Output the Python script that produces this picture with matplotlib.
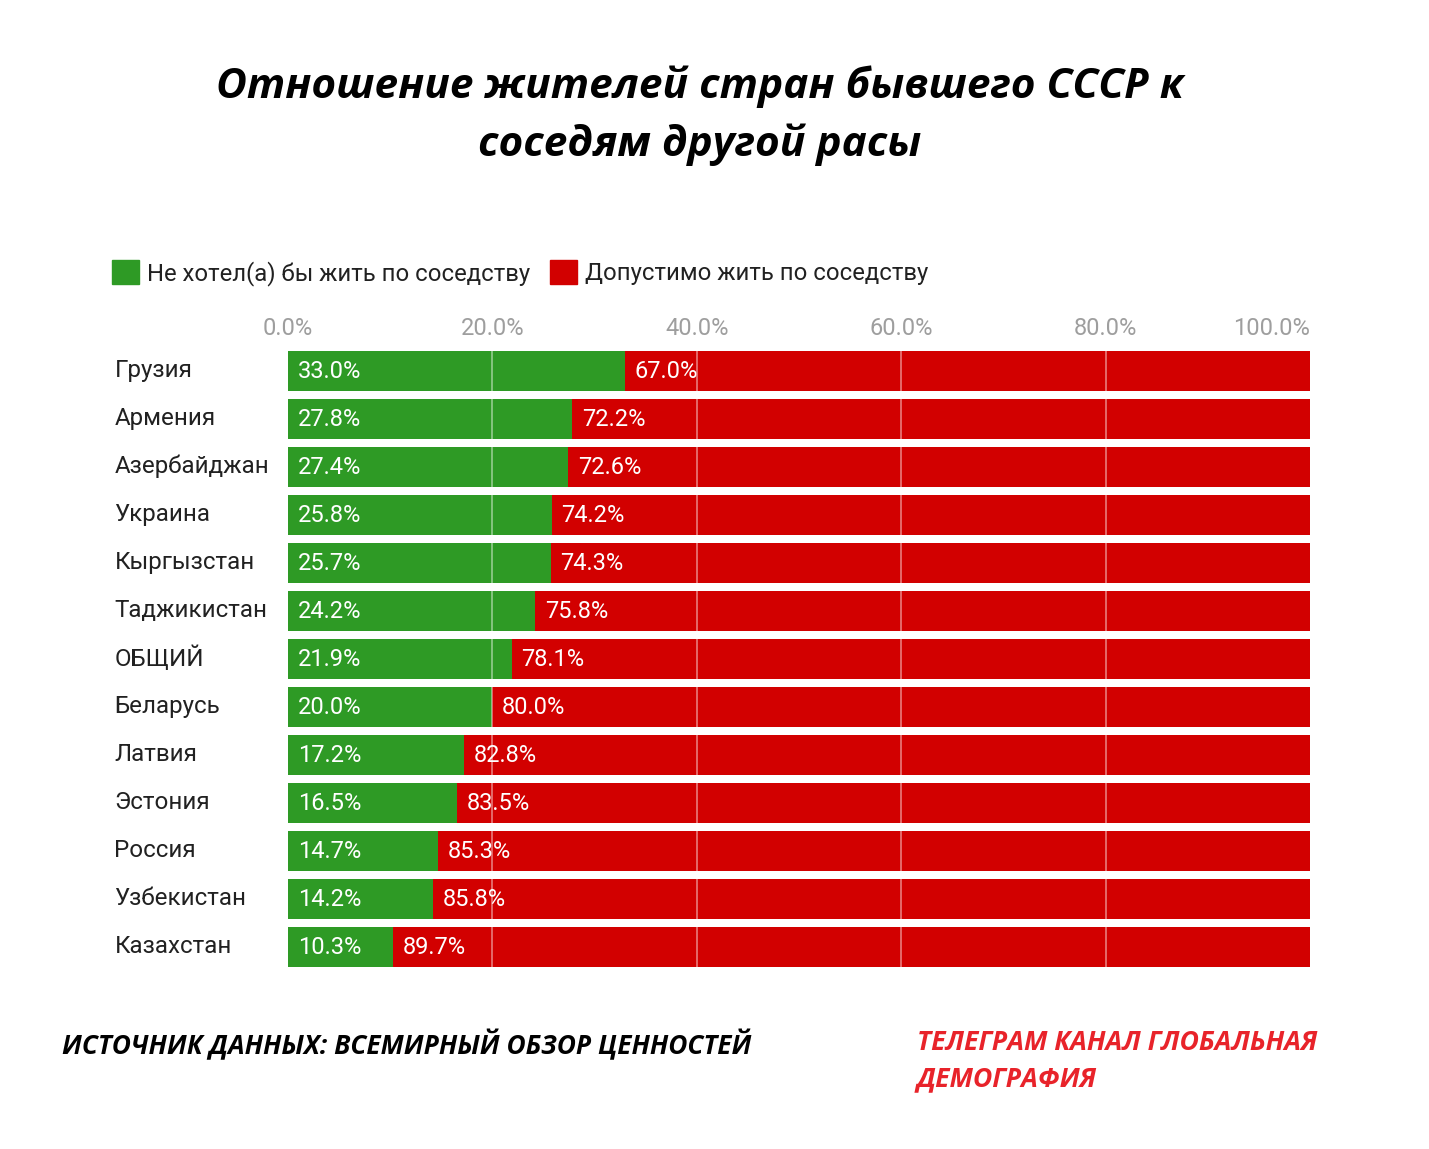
import matplotlib.pyplot as plt
from matplotlib.patches import Patch
from matplotlib.transforms import ScaledTranslation

countries = ['Грузия', 'Армения', 'Азербайджан', 'Украина', 'Кыргызстан',
             'Таджикистан', 'ОБЩИЙ', 'Беларусь', 'Латвия', 'Эстония',
             'Россия', 'Узбекистан', 'Казахстан']
not_want = [33.0, 27.8, 27.4, 25.8, 25.7, 24.2, 21.9, 20.0, 17.2, 16.5, 14.7, 14.2, 10.3]
acceptable = [67.0, 72.2, 72.6, 74.2, 74.3, 75.8, 78.1, 80.0, 82.8, 83.5, 85.3, 85.8, 89.7]
ticks = [0, 20, 40, 60, 80, 100]
tick_labels = ['0.0%', '20.0%', '40.0%', '60.0%', '80.0%', '100.0%']

GREEN = '#2e9a25'
RED = '#d20000'
W, H = 1429, 1149

plt.rcParams['font.family'] = ['Roboto', 'DejaVu Sans']

fig = plt.figure(figsize=(W / 100, H / 100), dpi=100)
fig.patch.set_facecolor('white')


def fx(x):
    return x / W


def fy(y):
    return 1 - y / H


# axes box in pixels: left 288, right 1310, top 347, bottom 971
ax = fig.add_axes([fx(288), fy(971), fx(1310) - fx(288), (971 - 347) / H])

y = list(range(len(countries)))
ax.barh(y, not_want, height=0.833, color=GREEN, zorder=1)
ax.barh(y, acceptable, left=not_want, height=0.833, color=RED, zorder=1)

for i in y:
    ax.annotate(f'{not_want[i]:.1f}%', (0, i), xytext=(7, 0),
                textcoords='offset points', ha='left', va='center',
                color='white', fontsize=17, zorder=5)
    ax.annotate(f'{acceptable[i]:.1f}%', (not_want[i], i), xytext=(7, 0),
                textcoords='offset points', ha='left', va='center',
                color='white', fontsize=17, zorder=5)

for t in ticks[1:-1]:
    ax.axvline(t, color='white', alpha=0.45, lw=1.3, zorder=3)

ax.set_xlim(0, 100)
ax.set_ylim(len(countries) - 0.5, -0.5)
ax.xaxis.tick_top()
ax.set_xticks(ticks)
ax.set_xticklabels(tick_labels, color='#9e9e9e', fontsize=17)
ax.get_xticklabels()[-1].set_horizontalalignment('right')
ax.tick_params(axis='x', length=0, pad=5)
ax.set_yticks(y)
ax.set_yticklabels(countries, color='#212121', fontsize=17.4, ha='left')
ax.tick_params(axis='y', length=0, pad=125)
shift_up = ScaledTranslation(0, 3 / 100, fig.dpi_scale_trans)
for lab in ax.get_yticklabels():
    lab.set_transform(lab.get_transform() + shift_up)
for s in ax.spines.values():
    s.set_visible(False)

fig.text(fx(700), fy(87), 'Отношение жителей стран бывшего СССР к',
         ha='center', va='center', fontsize=30.5, fontweight='bold',
         fontstyle='italic', family='Open Sans', color='black')
fig.text(fx(700), fy(145), 'соседям другой расы',
         ha='center', va='center', fontsize=30.5, fontweight='bold',
         fontstyle='italic', family='Open Sans', color='black')

handles = [Patch(color=GREEN), Patch(color=RED)]
fig.legend(handles, ['Не хотел(а) бы жить по соседству', 'Допустимо жить по соседству'],
           loc='center left', bbox_to_anchor=(fx(90), fy(273)), ncol=2,
           frameon=False, fontsize=17.2, handlelength=1.15, handleheight=1.15,
           handletextpad=0.35, columnspacing=0.8, labelcolor='#212121')

fig.text(fx(62), fy(1045), 'ИСТОЧНИК ДАННЫХ: ВСЕМИРНЫЙ ОБЗОР ЦЕННОСТЕЙ',
         ha='left', va='center', fontsize=18.9, fontweight='bold',
         fontstyle='italic', family='Open Sans', color='black')
fig.text(fx(917), fy(1043), 'ТЕЛЕГРАМ КАНАЛ ГЛОБАЛЬНАЯ',
         ha='left', va='center', fontsize=19.2, fontweight='bold',
         fontstyle='italic', family='Open Sans', color='#e8232a')
fig.text(fx(917), fy(1079), 'ДЕМОГРАФИЯ',
         ha='left', va='center', fontsize=19.2, fontweight='bold',
         fontstyle='italic', family='Open Sans', color='#e8232a')

fig.savefig('out.png', dpi=100, facecolor='white')
